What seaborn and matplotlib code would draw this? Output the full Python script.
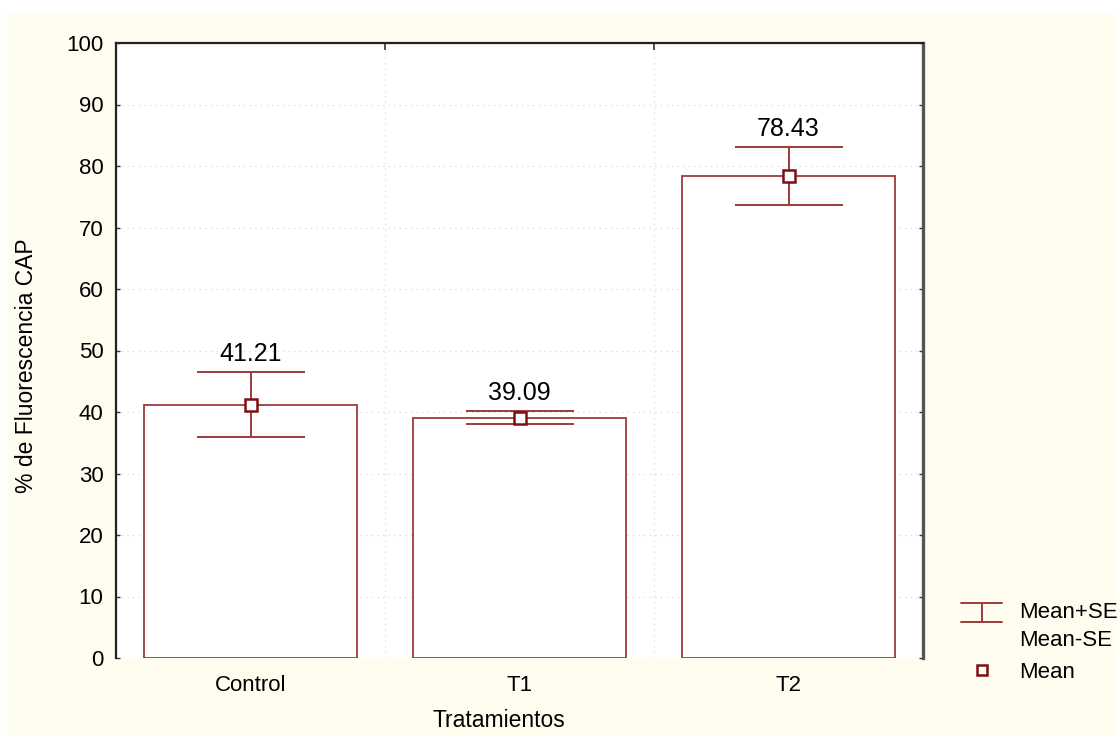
import matplotlib
matplotlib.use("Agg")
import matplotlib.pyplot as plt
from matplotlib.lines import Line2D
from matplotlib.patches import Rectangle
import seaborn as sns
import pandas as pd

# values
tratamientos = ["Control", "T1", "T2"]
medias = [41.21, 39.09, 78.43]
errores = [5.3, 1.1, 4.7]
y_ticks = list(range(0, 101, 10))

red = "#9e3a3a"
dark_red = "#7f0f0f"
cream = "#fffcf0"
ink = "#000000"

sns.set_theme(style="white")
plt.rcParams["font.family"] = ["Liberation Sans", "DejaVu Sans"]

df = pd.DataFrame({"Tratamientos": tratamientos, "media": medias, "se": errores})

fig = plt.figure(figsize=(11.17, 7.36), dpi=100, facecolor="white")
fig.patches.append(Rectangle((7 / 1117, 0), 1, 1 - 14 / 736, transform=fig.transFigure,
                             facecolor=cream, edgecolor="none", zorder=-10))
ax = fig.add_axes([116 / 1117, 1 - 658 / 736, (923 - 116) / 1117, (658 - 43) / 736])
ax.set_facecolor("white")

# faint dotted grid
for v in y_ticks[1:-1]:
    ax.axhline(v, color="#d4d4d4", lw=0.8, ls=(0, (1, 4)), zorder=0)
for v in [0.5, 1.5]:
    ax.axvline(v, color="#d4d4d4", lw=0.8, ls=(0, (1, 4)), zorder=0)

sns.barplot(data=df, x="Tratamientos", y="media", color="white", edgecolor=red,
            linewidth=1.3, width=0.79, errorbar=None, ax=ax, zorder=2)

ax.errorbar(range(len(df)), df["media"], yerr=df["se"], fmt="none", ecolor=red,
            elinewidth=1.4, capsize=39, capthick=1.4, zorder=3)
ax.plot(range(len(df)), df["media"], ls="none", marker="s", markersize=8,
        markerfacecolor="white", markeredgecolor=dark_red, markeredgewidth=1.8, zorder=4)

for i, (m, s) in enumerate(zip(df["media"], df["se"])):
    ax.annotate(f"{m:.2f}", (i, m + s), xytext=(0, 4), textcoords="offset points",
                ha="center", va="bottom", fontsize=18, color=ink)

ax.set_xlim(-0.5, 2.5)
ax.set_ylim(0, 100)
ax.set_yticks(y_ticks)
ax.set_xticks([0.5, 1.5], minor=True)
ax.tick_params(axis="y", which="major", left=True, right=True, direction="in",
               length=3, width=1.0, color="#333333", labelsize=16, labelcolor=ink, pad=9)
ax.tick_params(axis="x", which="major", bottom=False, labelsize=16, labelcolor=ink, pad=6)
ax.tick_params(axis="x", which="minor", bottom=False, top=True, direction="in",
               length=5, width=1.2, color="#333333")

for side in ["left", "top", "right"]:
    ax.spines[side].set_color("#222222")
    ax.spines[side].set_linewidth(1.6)
ax.spines["right"].set_color("#555555")
ax.spines["right"].set_linewidth(2.4)
ax.spines["bottom"].set_visible(False)

ax.set_xlabel("Tratamientos", fontsize=16.5, color=ink)
ax.set_ylabel("% de Fluorescencia CAP", fontsize=16.5, color=ink)
ax.yaxis.set_label_coords(-0.097, 0.476)
ax.xaxis.set_label_coords(0.474, -0.083)

# legend drawn by hand in figure pixels
def fx(px):
    return px / 1117

def fy(py):
    return 1 - py / 736

for yy in [603, 622]:
    fig.lines.append(Line2D([fx(961), fx(1002)], [fy(yy), fy(yy)], color=red, lw=1.4,
                            transform=fig.transFigure))
fig.lines.append(Line2D([fx(982), fx(982)], [fy(603), fy(622)], color=red, lw=1.4,
                        transform=fig.transFigure))
fig.lines.append(Line2D([fx(982)], [fy(670)], ls="none", marker="s", markersize=7,
                        markerfacecolor="white", markeredgecolor=dark_red,
                        markeredgewidth=1.8, transform=fig.transFigure))
fig.text(fx(1019), fy(613), "Mean+SE", fontsize=16, va="center", ha="left", color=ink)
fig.text(fx(1019), fy(640), "Mean-SE", fontsize=16, va="center", ha="left", color=ink)
fig.text(fx(1019), fy(672), "Mean", fontsize=16, va="center", ha="left", color=ink)

fig.savefig("out.png", dpi=100, facecolor=fig.get_facecolor())
